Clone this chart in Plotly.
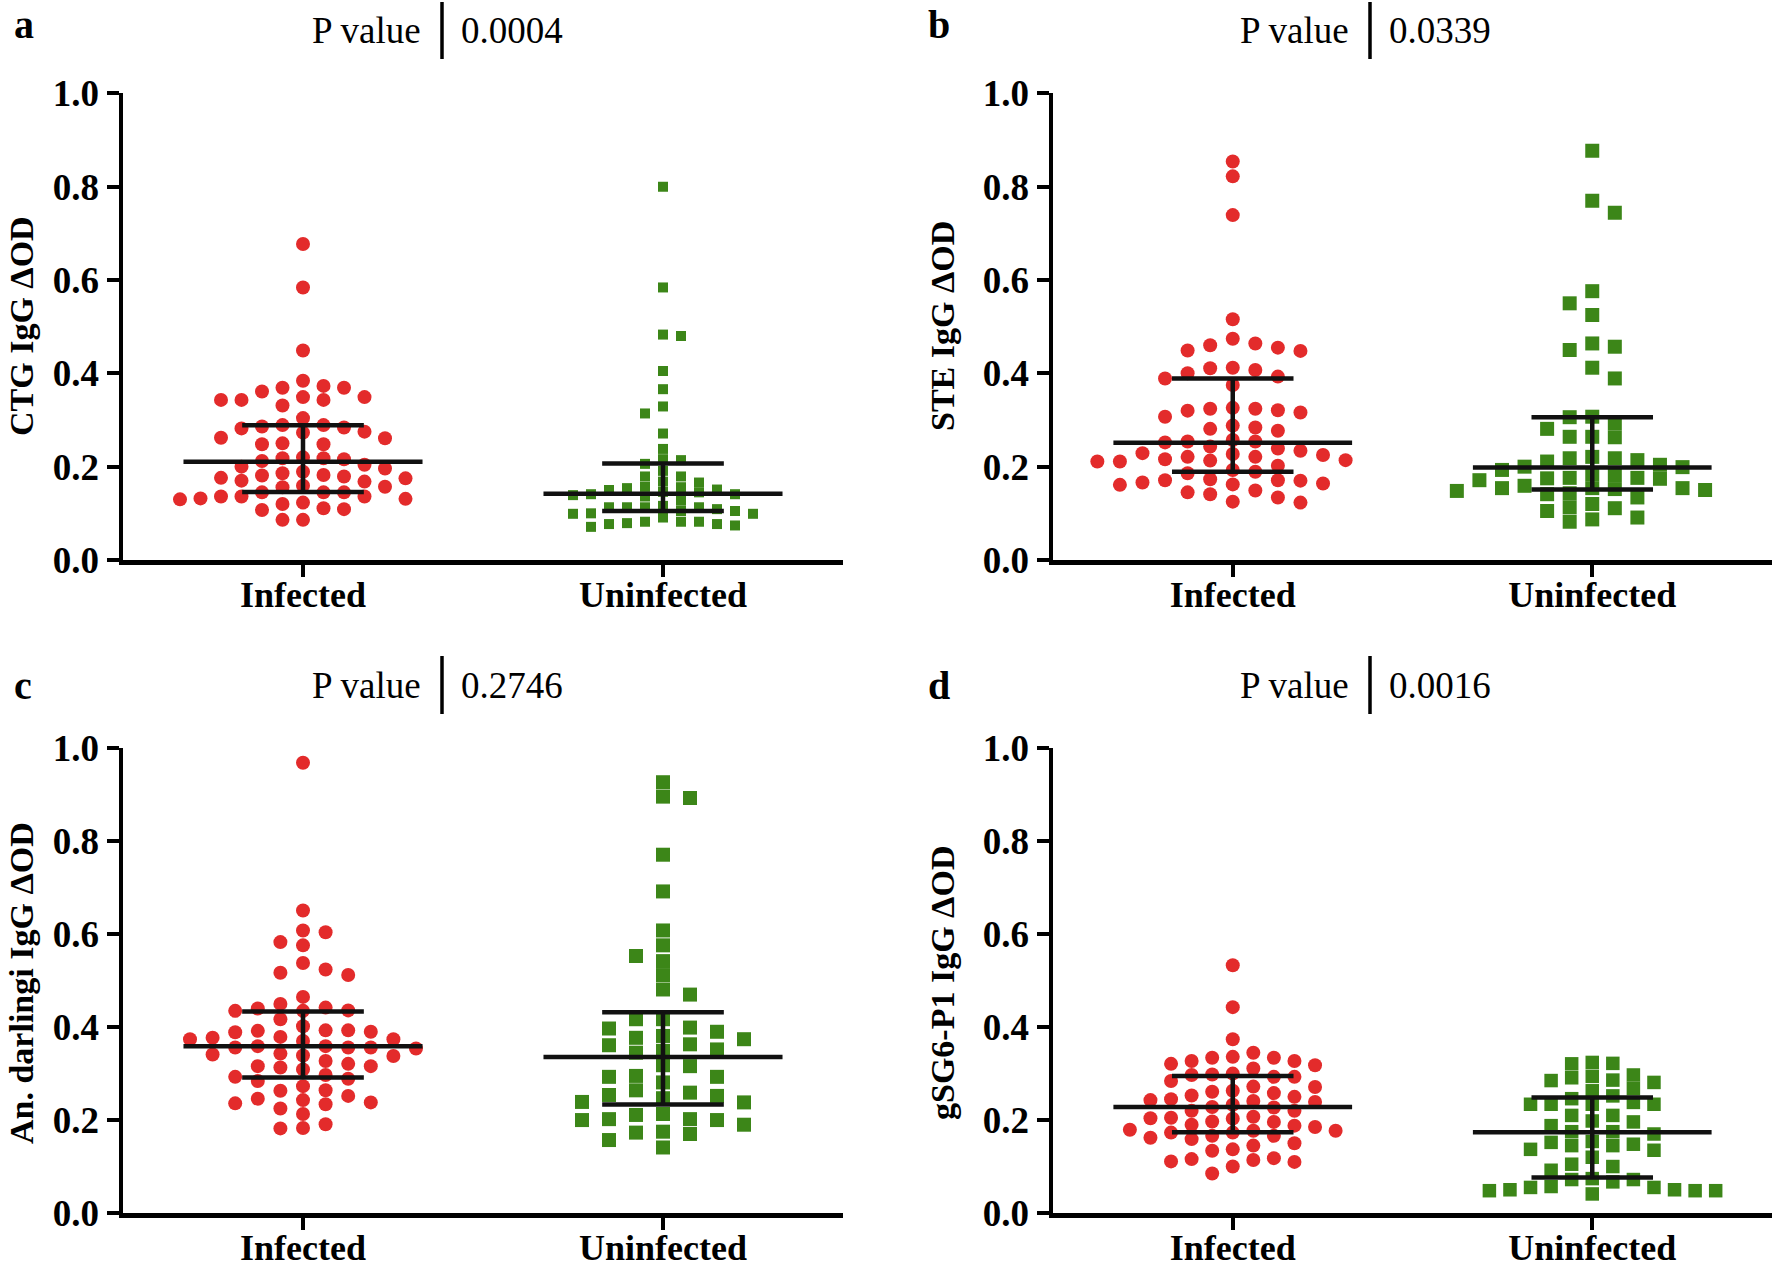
import plotly.graph_objects as go

# ---------------- data ----------------
categories = ["Infected", "Uninfected"]
y_tick_vals = [0.0, 0.2, 0.4, 0.6, 0.8, 1.0]
y_tick_text = ["0.0", "0.2", "0.4", "0.6", "0.8", "1.0"]

panel_letters = ["a", "b", "c", "d"]
y_titles = ["CTG IgG ΔOD", "STE IgG ΔOD", "An. darlingi IgG ΔOD", "gSG6-P1 IgG ΔOD"]
p_values = ["0.0004", "0.0339", "0.2746", "0.0016"]

a_infected = [0.677, 0.584, 0.449, 0.384, 0.373, 0.369, 0.369, 0.361, 0.349, 0.349, 0.343, 0.343,
              0.343, 0.331, 0.304, 0.284, 0.286, 0.289, 0.289, 0.282, 0.275, 0.273, 0.262, 0.261,
              0.248, 0.248, 0.250, 0.216, 0.218, 0.220, 0.218, 0.212, 0.196, 0.200, 0.204, 0.186,
              0.189, 0.179, 0.181, 0.182, 0.176, 0.168, 0.170, 0.175, 0.159, 0.156, 0.157, 0.145,
              0.145, 0.145, 0.136, 0.136, 0.130, 0.131, 0.132, 0.136, 0.123, 0.120, 0.107, 0.111,
              0.109, 0.086, 0.086]
a_uninfected = [0.800, 0.584, 0.480, 0.483, 0.405, 0.366, 0.329, 0.314, 0.271, 0.238, 0.216, 0.214,
                0.206, 0.191, 0.179, 0.179, 0.168, 0.166, 0.157, 0.154, 0.150, 0.146, 0.151, 0.156,
                0.139, 0.141, 0.141, 0.145, 0.136, 0.127, 0.116, 0.113, 0.113, 0.113, 0.113, 0.109,
                0.105, 0.105, 0.099, 0.099, 0.100, 0.091, 0.082, 0.082, 0.082, 0.079, 0.077, 0.077,
                0.074, 0.071]
b_infected = [0.854, 0.822, 0.739, 0.516, 0.474, 0.448, 0.455, 0.464, 0.460, 0.449, 0.411, 0.412,
              0.400, 0.407, 0.389, 0.393, 0.375, 0.324, 0.321, 0.316, 0.326, 0.320, 0.324, 0.307,
              0.288, 0.281, 0.284, 0.277, 0.243, 0.234, 0.254, 0.254, 0.257, 0.252, 0.239, 0.227,
              0.229, 0.225, 0.214, 0.221, 0.221, 0.211, 0.216, 0.211, 0.202, 0.213, 0.193, 0.189,
              0.186, 0.164, 0.161, 0.170, 0.171, 0.171, 0.173, 0.162, 0.166, 0.134, 0.141, 0.149,
              0.145, 0.123, 0.125]
b_uninfected = [0.877, 0.770, 0.744, 0.576, 0.550, 0.525, 0.464, 0.450, 0.457, 0.412, 0.389, 0.306,
                0.307, 0.293, 0.281, 0.263, 0.264, 0.264, 0.218, 0.218, 0.221, 0.211, 0.214, 0.204,
                0.200, 0.199, 0.193, 0.176, 0.176, 0.175, 0.171, 0.174, 0.182, 0.184, 0.154, 0.152,
                0.154, 0.154, 0.150, 0.159, 0.143, 0.141, 0.148, 0.134, 0.120, 0.111, 0.113, 0.105,
                0.091, 0.087, 0.082]
c_infected = [0.969, 0.651, 0.604, 0.608, 0.583, 0.576, 0.538, 0.524, 0.512, 0.517, 0.465, 0.450,
              0.435, 0.436, 0.435, 0.442, 0.440, 0.417, 0.402, 0.392, 0.393, 0.393, 0.390, 0.389,
              0.379, 0.374, 0.374, 0.370, 0.377, 0.354, 0.356, 0.356, 0.359, 0.359, 0.356, 0.339,
              0.341, 0.338, 0.343, 0.321, 0.316, 0.316, 0.327, 0.313, 0.309, 0.293, 0.289, 0.297,
              0.284, 0.273, 0.264, 0.263, 0.252, 0.243, 0.238, 0.246, 0.234, 0.236, 0.225, 0.213,
              0.182, 0.191, 0.183]
c_uninfected = [0.417, 0.381, 0.352, 0.316, 0.281, 0.238, 0.200, 0.576, 0.390, 0.361, 0.252, 0.213,
                0.170, 0.141, 0.927, 0.893, 0.771, 0.692, 0.608, 0.542, 0.512, 0.374, 0.349, 0.295,
                0.264, 0.202, 0.175, 0.896, 0.553, 0.397, 0.363, 0.318, 0.293, 0.239, 0.190, 0.157,
                0.399, 0.345, 0.293, 0.254, 0.202, 0.173, 0.377, 0.247, 0.211, 0.417, 0.259, 0.200,
                0.481, 0.470]
d_infected = [0.533, 0.443, 0.374, 0.334, 0.336, 0.345, 0.334, 0.318, 0.327, 0.321, 0.327, 0.284,
              0.311, 0.300, 0.293, 0.297, 0.293, 0.298, 0.272, 0.271, 0.258, 0.263, 0.261, 0.253,
              0.250, 0.245, 0.243, 0.239, 0.241, 0.228, 0.227, 0.233, 0.220, 0.220, 0.188, 0.205,
              0.203, 0.204, 0.207, 0.185, 0.196, 0.197, 0.190, 0.179, 0.177, 0.177, 0.173, 0.166,
              0.166, 0.173, 0.162, 0.159, 0.145, 0.137, 0.150, 0.134, 0.114, 0.116, 0.111, 0.110,
              0.118, 0.100, 0.085]
d_uninfected = [0.285, 0.252, 0.067, 0.294, 0.234, 0.175, 0.145, 0.055, 0.297, 0.234, 0.188, 0.148,
                0.120, 0.057, 0.321, 0.268, 0.234, 0.210, 0.175, 0.145, 0.074, 0.041, 0.281, 0.234,
                0.196, 0.135, 0.092, 0.055, 0.322, 0.291, 0.238, 0.198, 0.170, 0.137, 0.100, 0.048,
                0.324, 0.286, 0.263, 0.210, 0.152, 0.105, 0.050, 0.246, 0.154, 0.048, 0.050, 0.072,
                0.072, 0.048]

# summary lines: [center, lower, upper] for Infected / Uninfected
a_summary = [[0.2107, 0.1457, 0.2886], [0.142, 0.105, 0.207]]
b_summary = [[0.2514, 0.189, 0.389], [0.198, 0.151, 0.306]]
c_summary = [[0.3586, 0.2914, 0.4336], [0.3357, 0.2336, 0.432]]
d_summary = [[0.228, 0.1736, 0.295], [0.1736, 0.0764, 0.2486]]

groups = [(a_infected, a_uninfected), (b_infected, b_uninfected),
          (c_infected, c_uninfected), (d_infected, d_uninfected)]
summaries = [a_summary, b_summary, c_summary, d_summary]

# ---------------- styling ----------------
W, H = 1772, 1267
RED = "#E32B2B"
GREEN = "#3C8618"
SERIF = "Liberation Serif"
PX_PER_X = 360.0      # pixels per category unit
PX_PER_Y = 466.7      # pixels per 1.0 of y

# per panel: (slot spacing px, marker size) for infected / uninfected
swarm_style = [((20.5, 14), (18.0, 10)),
               ((22.6, 14), (22.6, 14)),
               ((22.6, 14), (27.0, 14)),
               ((20.6, 14), (20.6, 13.5))]

x_domains = [[123 / W, 843 / W], [1053 / W, 1.0], [123 / W, 843 / W], [1053 / W, 1.0]]
y_domains = [[1 - 560 / H, 1 - 93.3 / H], [1 - 560 / H, 1 - 93.3 / H],
             [1 - 1213 / H, 1 - 748.3 / H], [1 - 1213 / H, 1 - 748.3 / H]]


def swarm_offsets(vals, slot_px, dia_px):
    """Deterministic beeswarm: place each point at the nearest free half-slot."""
    placed = []
    offs = [0.0] * len(vals)
    flip = 1
    for i in sorted(range(len(vals)), key=lambda j: -vals[j]):
        y = vals[i] * PX_PER_Y
        m = 0
        chosen = None
        while chosen is None:
            cands = [0.0] if m == 0 else [flip * m * slot_px / 2, -flip * m * slot_px / 2]
            for c in cands:
                if all(not (abs(c - px) < slot_px * 0.99 and abs(y - py) < dia_px * 0.97)
                       for px, py in placed):
                    chosen = c
                    break
            m += 1
        if chosen != 0:
            flip = -flip
        placed.append((chosen, y))
        offs[i] = chosen / PX_PER_X
    return offs


fig = go.Figure()
layout = dict(width=W, height=H, margin=dict(l=0, r=0, t=0, b=0),
              paper_bgcolor="white", plot_bgcolor="white", showlegend=False)
annotations = []
shapes = []

for p in range(4):
    n = "" if p == 0 else str(p + 1)
    xa, ya = "x" + n, "y" + n
    for g, (vals, color, symbol) in enumerate([(groups[p][0], RED, "circle"),
                                                (groups[p][1], GREEN, "square")]):
        slot, msize = swarm_style[p][g]
        offs = swarm_offsets(vals, slot, msize)
        fig.add_trace(go.Scatter(
            x=[g + o for o in offs], y=vals, mode="markers", xaxis=xa, yaxis=ya,
            marker=dict(symbol=symbol, size=msize, color=color, line=dict(width=0)),
            hoverinfo="skip"))
    for g in range(2):
        mid, lo, hi = summaries[p][g]
        line = dict(color="#111111", width=4.5)
        fig.add_trace(go.Scatter(x=[g - 0.332, g + 0.332], y=[mid, mid], mode="lines",
                                 xaxis=xa, yaxis=ya, line=line, hoverinfo="skip"))
        fig.add_trace(go.Scatter(x=[g - 0.169, g + 0.169, None, g - 0.169, g + 0.169, None, g, g],
                                 y=[lo, lo, None, hi, hi, None, lo, hi], mode="lines",
                                 xaxis=xa, yaxis=ya, line=line, hoverinfo="skip"))

    layout["xaxis" + n] = dict(
        domain=x_domains[p], anchor=ya, range=[-0.5, 1.5], tickvals=[0, 1], ticktext=categories,
        showline=True, linewidth=4.5, linecolor="black", ticks="outside", ticklen=12, tickwidth=4,
        tickcolor="black", showgrid=False, zeroline=False, automargin=False, fixedrange=True,
        ticklabelstandoff=-13,
        tickfont=dict(family=SERIF, size=36, color="black", weight="bold"))
    layout["yaxis" + n] = dict(
        domain=y_domains[p], anchor=xa, range=[0, 1], tickvals=y_tick_vals, ticktext=y_tick_text,
        showline=True, linewidth=4.5, linecolor="black", ticks="outside", ticklen=12, tickwidth=4,
        tickcolor="black", showgrid=False, zeroline=False, automargin=False, fixedrange=True,
        tickfont=dict(family=SERIF, size=37, color="black", weight="bold"))

    left = p in (0, 2)
    top = p in (0, 1)
    # y-axis title
    annotations.append(dict(
        text=y_titles[p], xref="paper", yref="paper", x=(21 if left else 942) / W,
        y=1 - (326 if top else 983) / H, textangle=-90, showarrow=False,
        xanchor="center", yanchor="middle",
        font=dict(family=SERIF, size=34, color="black", weight="bold")))
    # panel letter
    annotations.append(dict(
        text=panel_letters[p], xref="paper", yref="paper", x=(12 if left else 926) / W,
        y=1 - (25 if top else 685) / H, showarrow=False, xanchor="left", yanchor="middle",
        font=dict(family=SERIF, size=40, color="black", weight="bold")))
    # P value header
    hx = 0 if left else 928
    hy = 30 if top else 686
    annotations.append(dict(
        text="P value", xref="paper", yref="paper", x=(423 + hx) / W, y=1 - hy / H,
        showarrow=False, xanchor="right", yanchor="middle",
        font=dict(family=SERIF, size=37, color="black")))
    annotations.append(dict(
        text=p_values[p], xref="paper", yref="paper", x=(459 + hx) / W, y=1 - hy / H,
        showarrow=False, xanchor="left", yanchor="middle",
        font=dict(family=SERIF, size=37, color="black")))
    y_bar0, y_bar1 = (2, 59) if top else (656, 714)
    shapes.append(dict(type="line", xref="paper", yref="paper",
                       x0=(442 + hx) / W, x1=(442 + hx) / W,
                       y0=1 - y_bar0 / H, y1=1 - y_bar1 / H,
                       line=dict(color="black", width=3.5)))

layout["annotations"] = annotations
layout["shapes"] = shapes
fig.update_layout(**layout)
fig.write_html("out.html", config={"displayModeBar": False, "staticPlot": True},
               post_script="document.body.style.margin='0';document.body.style.padding='0';"
                           "document.body.style.overflow='hidden';")
